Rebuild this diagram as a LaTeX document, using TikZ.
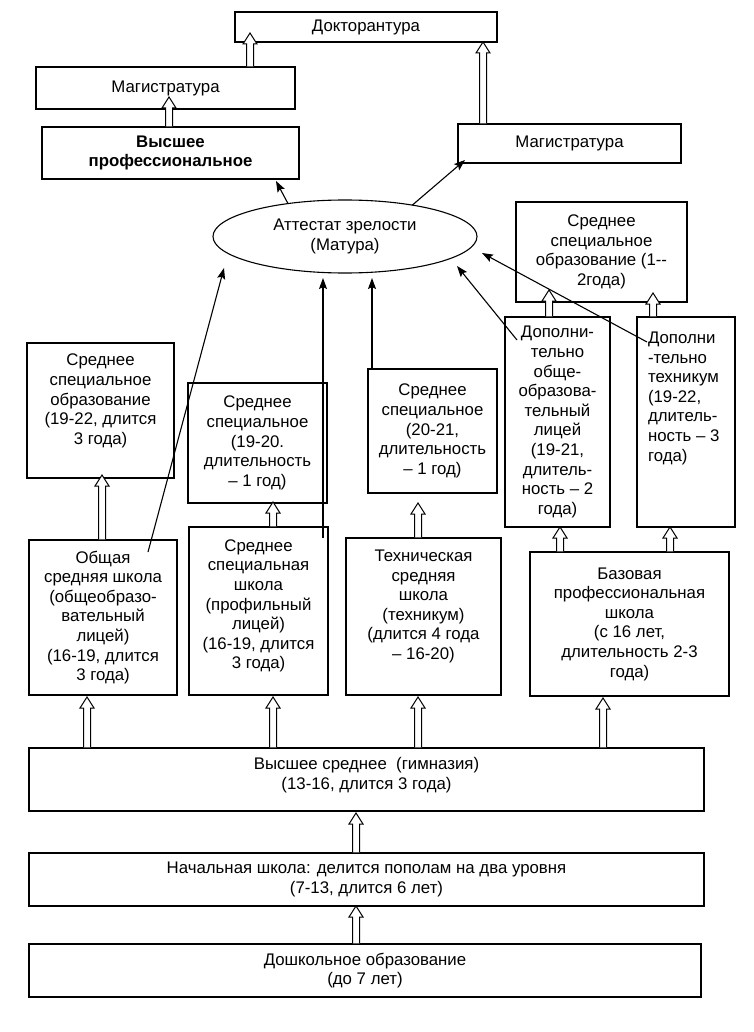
\documentclass[tikz,border=0pt]{standalone}
\usepackage{fontspec}
\setmainfont{Liberation Sans}
\usetikzlibrary{calc,shapes.geometric,arrows.meta}
\begin{document}
\begin{tikzpicture}[x=1pt,y=-1pt,
  every node/.style={font=\fontsize{16.8}{19.6}\selectfont, align=center, inner sep=0pt, outer sep=0pt},
  box/.style={draw, line width=1.2pt, rectangle},
  harrow/.style={draw, fill=white, line width=1pt, line join=miter,
    to path={let \p1=(\tikztostart), \p2=(\tikztotarget) in
      (\x1-3.5pt,\y1+0.6pt) -- (\x1-3.5pt,\y2-11pt) -- (\x1-7pt,\y2-11pt) -- (\x1,\y2)
      -- (\x1+7pt,\y2-11pt) -- (\x1+3.5pt,\y2-11pt) -- (\x1+3.5pt,\y1+0.6pt)}},
  tarrow/.style={draw, line width=1.1pt, -{Stealth[length=11pt,width=8pt,inset=2pt]}}
]
\fill[white] (0,0) rectangle (753,1032);
\useasboundingbox (0,0) rectangle (753,1032);

% boxes
\node[box, minimum width=262, minimum height=30] (dok) at (366,27) {Докторантура};
\node[box, minimum width=259, minimum height=42] (mag1) at (165.5,88) {Магистратура};
\node[box, minimum width=257, minimum height=52, font=\fontsize{16.8}{19.6}\selectfont\bfseries] (vys) at (170.5,153) {Высшее\\профессиональное};
\node[box, minimum width=223, minimum height=39] (mag2) at (569.5,143.5) {Магистратура};
\node[draw, ellipse, line width=1.1pt, minimum width=264, minimum height=73] (ell) at (345,236.5) {Аттестат зрелости\\(Матура)};
\node[box, minimum width=171, minimum height=100] (ss12) at (601.5,252) {Среднее\\специальное\\образование (1-{}-\\2года)};
\node[box, minimum width=147, minimum height=135, text depth=22.6pt] (ss1922) at (100.5,410.5) {Среднее\\специальное\\образование\\(19-22, длится\\3 года)};
\node[box, minimum width=139, minimum height=120] (ss1920) at (257.5,443) {Среднее\\специальное\\(19-20.\\длительность\\– 1 год)};
\node[box, minimum width=129, minimum height=124] (ss2021) at (432.5,431) {Среднее\\специальное\\(20-21,\\длительность\\– 1 год)};
\node[box, minimum width=105, minimum height=210] (dopl) at (557.5,422) {Дополни-\\тельно\\обще-\\образова-\\тельный\\лицей\\(19-21,\\длитель-\\ность – 2\\года)};
\node[box, minimum width=98, minimum height=210] (dopt) at (686,422) {};
\node[anchor=north west, align=left] (dopttxt) at ($(dopt.north west)+(11,15)$) {Дополни\\-тельно\\техникум\\(19-22,\\длитель-\\ность – 3\\года)};
\node[box, minimum width=148, minimum height=155] (obsh) at (103,617.5) {Общая\\средняя школа\\(общеобразо-\\вательный\\лицей)\\(16-19, длится\\3 года)};
\node[box, minimum width=139, minimum height=168, text depth=13.6pt] (prof) at (258.5,611) {Среднее\\специальная\\школа\\(профильный\\лицей)\\(16-19, длится\\3 года)};
\node[box, minimum width=155, minimum height=157, text depth=23.6pt] (tech) at (423.5,616.5) {Техническая\\средняя\\школа\\(техникум)\\(длится 4 года\\– 16-20)};
\node[box, minimum width=199, minimum height=144] (baz) at (629.5,624) {Базовая\\профессиональная\\школа\\(с 16 лет,\\длительность 2-3\\года)};
\node[box, minimum width=675, minimum height=63, text depth=11.6pt] (vsr) at (366.5,779.5) {Высшее среднее\ \ (гимназия)\\(13-16, длится 3 года)};
\node[box, minimum width=675, minimum height=53] (nach) at (366.5,879.5) {Начальная школа: делится пополам на два уровня\\(7-13, длится 6 лет)};
\node[box, minimum width=672, minimum height=53] (dosh) at (365,970.5) {Дошкольное образование\\(до 7 лет)};

% hollow arrows
\draw[harrow] (mag1.north -| 250,0) to ($(dok.south)+(0,-9)$);
\draw[harrow] (mag2.north -| 483,0) to (dok.south);
\draw[harrow] (vys.north -| 169,0) to ($(mag1.south)+(0,-12)$);
\draw[harrow] (dopl.north -| 549,0) to ($(ss12.south)+(0,-12)$);
\draw[harrow] (dopt.north -| 653,0) to ($(ss12.south)+(0,-9)$);
\draw[harrow] (obsh.north -| 102,0) to ($(ss1922.south)+(0,-3)$);
\draw[harrow] (prof.north -| 273,0) to ($(ss1920.south)+(0,-1)$);
\draw[harrow] (tech.north -| 418,0) to ($(ss2021.south)+(0,10)$);
\draw[harrow] (baz.north -| 560,0) to (dopl.south);
\draw[harrow] (baz.north -| 670,0) to (dopt.south);
\draw[harrow] (vsr.north -| 87,0) to ($(obsh.south)+(0,2)$);
\draw[harrow] (vsr.north -| 273,0) to ($(prof.south)+(0,2)$);
\draw[harrow] (vsr.north -| 418,0) to ($(tech.south)+(0,2)$);
\draw[harrow] (vsr.north -| 603,0) to ($(baz.south)+(0,2)$);
\draw[harrow] (nach.north -| 356,0) to ($(vsr.south)+(0,2)$);
\draw[harrow] (dosh.north -| 356,0) to (nach.south);

% thin arrows
\draw[tarrow] (ell.150) -- ($(vys.south -| 276,0)+(0,2)$);
\draw[tarrow] (ell.25) -- ($(mag2.south west)+(7,-3)$);
\draw[tarrow] ($(obsh.north west)+(119,12)$) -- ($(ell.center)+(-121,31.5)$);
\draw[tarrow] ($(prof.north -| 323,0)+(0,11)$) -- ($(ell.south -| 323,0)+(0,5)$);
\draw[tarrow] (ss2021.north -| 372,0) -- ($(ell.south -| 372,0)+(0,5)$);
\draw[tarrow] ($(dopl.north west)+(12,23)$) -- ($(ell.center)+(112,29.5)$);
\draw[tarrow] ($(dopt.north west)+(10,25)$) -- ($(ell.center)+(137,16.5)$);
\end{tikzpicture}
\end{document}
